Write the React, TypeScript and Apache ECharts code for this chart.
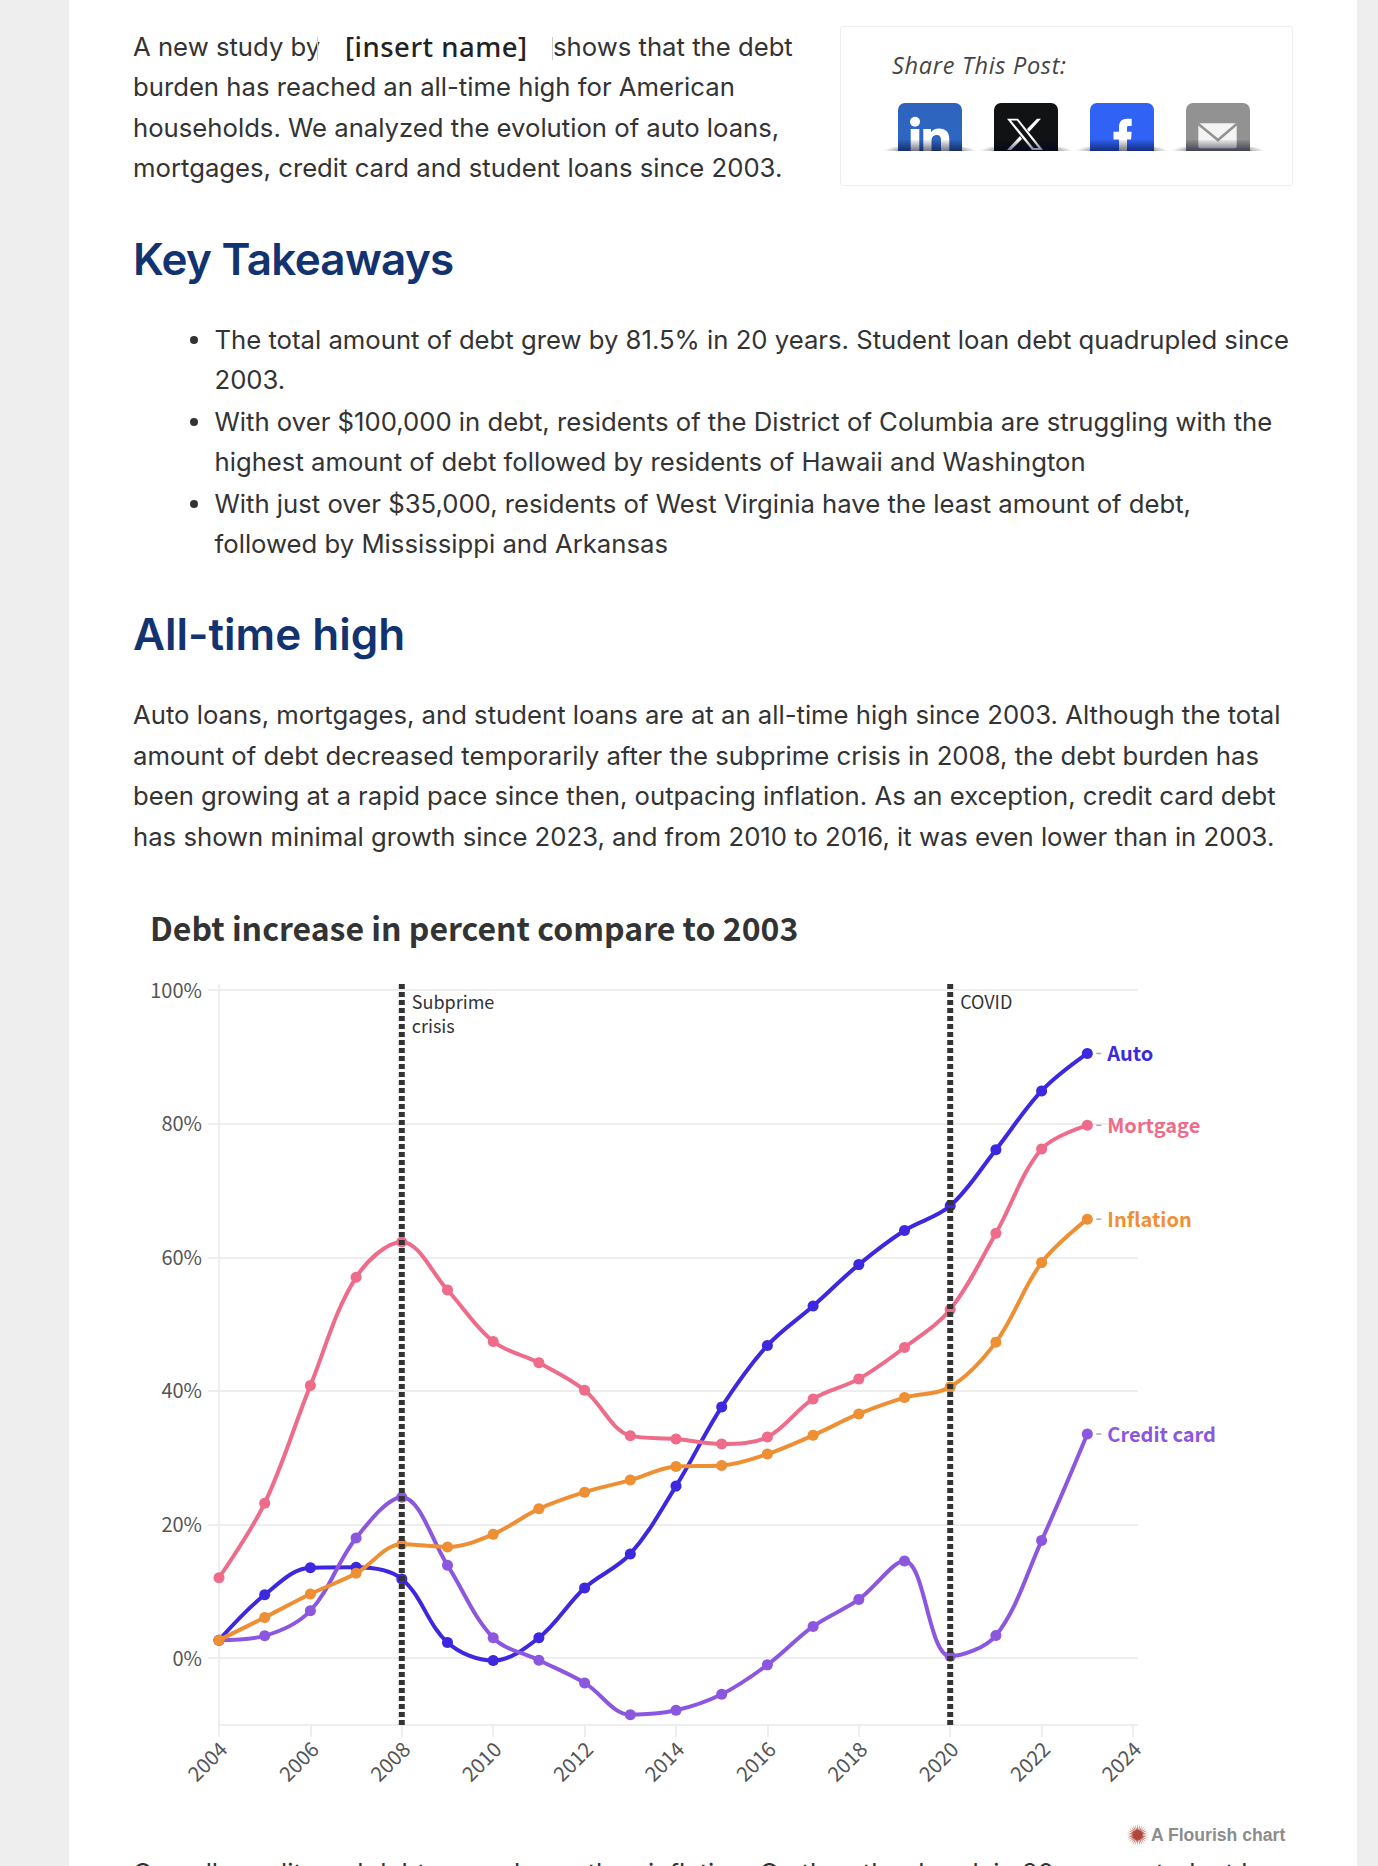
import React, { useEffect, useRef } from "react";
import * as echarts from "echarts";

const years = [2004, 2005, 2006, 2007, 2008, 2009, 2010, 2011, 2012, 2013, 2014, 2015, 2016, 2017, 2018, 2019, 2020, 2021, 2022, 2023];
const auto = [2.7, 9.5, 13.55, 13.6, 11.85, 2.35, -0.35, 3.05, 10.5, 15.6, 25.75, 37.6, 46.8, 52.7, 58.9, 64, 67.7, 76.1, 84.9, 90.5];
const mortgage = [12.05, 23.2, 40.8, 57, 62.3, 55.1, 47.4, 44.2, 40.1, 33.3, 32.8, 32.05, 33.1, 38.8, 41.8, 46.5, 52.2, 63.6, 76.2, 79.75];
const inflation = [2.7, 6.1, 9.6, 12.7, 17.05, 16.65, 18.55, 22.35, 24.85, 26.65, 28.7, 28.85, 30.55, 33.35, 36.55, 39, 40.6, 47.3, 59.2, 65.7];
const creditCard = [2.7, 3.35, 7.1, 18, 24.1, 13.9, 3.05, -0.3, -3.7, -8.45, -7.8, -5.4, -1, 4.75, 8.8, 14.55, 0.3, 3.4, 17.6, 33.55];
const seriesNames = ["Auto", "Mortgage", "Credit card", "Inflation"];
const seriesColors = ["#3d27df", "#ee6b8a", "#8c57df", "#ef8f33"];
const seriesValues = [auto, mortgage, creditCard, inflation];
const yTicks = [0, 20, 40, 60, 80, 100];
const eventYears = [2008, 2020];
const eventLabels = ["Subprime\ncrisis", "COVID"];
const chartTitle = "Debt increase in percent compare to 2003";

const SANS = "'Noto Sans CJK JP', 'Noto Sans', sans-serif";
const GRID = "#eeeeee";

const introLines = [
  { x: 133, y: 46.5, t: "A new study by" },
  { x: 553, y: 46.5, t: "shows that the debt" },
  { x: 133, y: 87, t: "burden has reached an all-time high for American" },
  { x: 133, y: 127.5, t: "households. We analyzed the evolution of auto loans," },
  { x: 133, y: 168, t: "mortgages, credit card and student loans since 2003." },
  { x: 214.5, y: 339.5, t: "The total amount of debt grew by 81.5% in 20 years. Student loan debt quadrupled since" },
  { x: 214.5, y: 380, t: "2003." },
  { x: 214.5, y: 421.5, t: "With over $100,000 in debt, residents of the District of Columbia are struggling with the" },
  { x: 214.5, y: 462, t: "highest amount of debt followed by residents of Hawaii and Washington" },
  { x: 214.5, y: 503.5, t: "With just over $35,000, residents of West Virginia have the least amount of debt," },
  { x: 214.5, y: 544, t: "followed by Mississippi and Arkansas" },
  { x: 133, y: 715, t: "Auto loans, mortgages, and student loans are at an all-time high since 2003. Although the total" },
  { x: 133, y: 756, t: "amount of debt decreased temporarily after the subprime crisis in 2008, the debt burden has" },
  { x: 133, y: 796, t: "been growing at a rapid pace since then, outpacing inflation. As an exception, credit card debt" },
  { x: 133, y: 837, t: "has shown minimal growth since 2023, and from 2010 to 2016, it was even lower than in 2003." },
  { x: 133, y: 1872.5, t: "Overall, credit card debt grew slower than inflation. On the other hand, in 20 years, student loans" },
];
const headings = [
  { y: 259, t: "Key Takeaways", spacing: -0.7 },
  { y: 634, t: "All-time high", spacing: 0 },
];
const bulletYs = [339.5, 421.5, 503.5];

function Line({ x, y, t, style }: any) {
  return (
    <div style={{ position: "absolute", left: x, top: y, transform: "translateY(-50%)", whiteSpace: "nowrap", lineHeight: 1.2, ...style }}>{t}</div>
  );
}

function Icon({ x, bg, children }: any) {
  return (
    <div style={{ position: "absolute", left: x, top: 103, width: 64, height: 48 }}>
      <div style={{ position: "absolute", left: -14, right: -14, top: 41, height: 7, background: "radial-gradient(ellipse 50% 100% at 50% 100%, rgba(0,0,0,.5), rgba(0,0,0,.32) 70%, rgba(0,0,0,0))" }} />
      <div style={{ position: "absolute", inset: 0, borderRadius: "7px 7px 0 0", overflow: "hidden", background: bg }}>
        <svg width="64" height="48" viewBox="0 0 64 48" style={{ position: "absolute", left: 0, top: 0 }}>{children}</svg>
        <div style={{ position: "absolute", left: 0, right: 0, bottom: 0, height: 11, background: "linear-gradient(rgba(0,0,30,.05), rgba(0,0,30,.55))" }} />
      </div>
    </div>
  );
}

export default function App() {
  const ref = useRef<HTMLDivElement>(null);
  useEffect(() => {
    const chart = echarts.init(ref.current!, undefined, { renderer: "svg" });
    const burst: number[][] = [];
    for (let i = 0; i < 56; i++) {
      const a = (i / 56) * Math.PI * 2;
      const r = i % 2 ? 4.5 : 11;
      burst.push([1137.6 + r * Math.cos(a), 955 + r * Math.sin(a)]);
    }
    const option: any = {
      animation: false,
      title: { text: chartTitle, left: 150, top: 30.5, padding: 0, textStyle: { fontFamily: SANS, fontWeight: 700, fontSize: 32, color: "#333333" } },
      grid: { left: 219, top: 110, width: 914, height: 735, containLabel: false },
      xAxis: {
        type: "value", min: 2004, max: 2024, interval: 2,
        axisLine: { show: true, onZero: false, lineStyle: { color: GRID, width: 2 } },
        axisTick: { show: true, length: 12, lineStyle: { color: GRID, width: 2 } },
        splitLine: { show: false },
        axisLabel: { rotate: 45, margin: 16, verticalAlign: "top", lineHeight: 10, fontFamily: SANS, fontSize: 20.5, color: "#555555", formatter: (v: number) => String(v), hideOverlap: false, showMinLabel: true, showMaxLabel: true },
      },
      yAxis: [
        {
          type: "value", min: -10, max: 100, interval: 20,
          axisLine: { show: true, onZero: false, lineStyle: { color: GRID, width: 2 } },
          axisTick: { show: true, length: 11, customValues: yTicks, lineStyle: { color: GRID, width: 2 } },
          splitLine: { show: true, lineStyle: { color: GRID, width: 2 } },
          axisLabel: { customValues: yTicks, margin: 17, verticalAlign: "bottom", lineHeight: 2, fontFamily: SANS, fontSize: 20, color: "#555555", formatter: (v: number) => v + "%" },
        },
        {
          type: "value", position: "right", min: -10, max: 100, interval: 20,
          axisLine: { show: false },
          axisTick: { show: true, length: 5, customValues: [-10, ...yTicks], lineStyle: { color: GRID, width: 2 } },
          splitLine: { show: false },
          axisLabel: { show: false },
        },
      ],
      graphic: [
        { type: "line", shape: { x1: 219, y1: 104, x2: 219, y2: 110 }, style: { stroke: GRID, lineWidth: 2 } },
        { type: "polygon", shape: { points: burst }, style: { fill: "#b0453a" } },
        { type: "text", x: 1151, y: 955, style: { text: "A Flourish chart", fontFamily: "'Liberation Sans', sans-serif", fontWeight: 700, fontSize: 17.6, fill: "#8c8c8c", textVerticalAlign: "middle" } },
      ],
      series: [
        ...seriesNames.map((name, i) => ({
          type: "line", name, z: 3 + i,
          data: years.map((y, j) => [y, seriesValues[i][j]]),
          smooth: 0.35,
          symbol: "circle", symbolSize: 11, showSymbol: true, showAllSymbol: true,
          lineStyle: { color: seriesColors[i], width: 4 },
          itemStyle: { color: seriesColors[i] },
          endLabel: { show: true, distance: 20, offset: [0, -1], formatter: name, fontFamily: SANS, fontWeight: 700, fontSize: 20, color: seriesColors[i] },
        })),
        {
          type: "custom", name: "leaders", z: 2, silent: true,
          data: seriesValues.map((v) => [years[years.length - 1], v[v.length - 1]]),
          renderItem: (_p: any, api: any) => {
            const c = api.coord([api.value(0), api.value(1)]);
            return { type: "line", shape: { x1: c[0] + 9, y1: c[1], x2: c[0] + 14, y2: c[1] }, style: { stroke: "#aaaaaa", lineWidth: 1.5 } };
          },
        },
        {
          type: "custom", name: "events", z: 10, silent: true,
          data: eventYears.map((y, i) => [y, i]),
          renderItem: (_p: any, api: any) => {
            const top = api.coord([api.value(0), 100]);
            const bottom = api.coord([api.value(0), -10]);
            const label = eventLabels[api.value(1)];
            return {
              type: "group",
              children: [
                { type: "line", shape: { x1: top[0], y1: top[1] - 6, x2: top[0], y2: bottom[1] }, style: { stroke: "#333333", lineWidth: 6, lineDash: [5, 3] } },
                { type: "text", x: top[0] + 10, y: top[1] - 1, style: { text: label, fontFamily: SANS, fontSize: 18, lineHeight: 24, fill: "#333333" } },
              ],
            };
          },
        },
      ],
    };
    chart.setOption(option);
    return () => chart.dispose();
  }, []);

  const body = { fontFamily: "Inter, sans-serif", fontSize: 25.7, color: "#333333" };
  return (
    <div style={{ position: "absolute", left: 0, top: 0, width: 1378, height: 1866, overflow: "hidden", background: "#eeeeee" }}>
      <div style={{ position: "absolute", left: 69, top: 0, width: 1288, height: 1866, background: "#ffffff" }} />
      {introLines.map((l, i) => <Line key={i} x={l.x} y={l.y} t={l.t} style={body} />)}
      <Line x={345} y={46} t="[insert name]" style={{ fontFamily: "'Noto Sans', sans-serif", fontWeight: 500, fontSize: 27.5, letterSpacing: 0.5, color: "#222222" }} />
      <div style={{ position: "absolute", left: 317, top: 37, width: 1, height: 23, background: "#cccccc" }} />
      <div style={{ position: "absolute", left: 552, top: 37, width: 1, height: 23, background: "#cccccc" }} />
      {headings.map((h, i) => <Line key={i} x={133} y={h.y} t={h.t} style={{ fontFamily: "Inter, sans-serif", fontWeight: 600, fontSize: 44, letterSpacing: h.spacing, color: "#12336f" }} />)}
      {bulletYs.map((y, i) => <div key={i} style={{ position: "absolute", left: 190, top: y - 4, width: 8, height: 8, borderRadius: 4, background: "#333333" }} />)}
      <div style={{ position: "absolute", left: 840, top: 26, width: 453, height: 160, boxSizing: "border-box", border: "1px solid #eeeeee", borderRadius: 3 }} />
      <Line x={892} y={65} t="Share This Post:" style={{ fontFamily: "'Open Sans', sans-serif", fontStyle: "italic", fontSize: 23.5, letterSpacing: 0.7, color: "#444444" }} />
      <Icon x={898} bg="linear-gradient(#2d63bd, #2e68c4)">
        <circle cx="17" cy="18.7" r="5" fill="#ffffff" />
        <rect x="12.7" y="26" width="8.6" height="22" fill="#ffffff" />
        <path d="M25.3 48 V26 H33 V29 C35 26.5 38 25.5 41 25.5 C47.5 25.5 51.3 29 51.3 36 V48 H43 V37 C43 33.5 41.5 32 39 32 C35.5 32 33.5 34 33.5 38 V48 Z" fill="#ffffff" />
      </Icon>
      <Icon x={994} bg="#101214">
        <path d="M13 15.7 H24 L49 47 H38 Z" fill="#ffffff" /><path d="M17 17.5 H23 L44.5 45 H39.5 Z" fill="#101214" /><path d="M47 15.7 L35 29 L33 26 L43 15.7 Z M26 33 L28 36 L17 47 H13 Z" fill="#ffffff" />
      </Icon>
      <Icon x={1090} bg="#2f62f5">
        <path d="M29 48 V36.5 H23.5 V28.7 H29 V24 C29 18.5 32 15.7 37 15.7 H41.7 V23 H38.5 C37.3 23 37 23.7 37 25 V28.7 H41.7 L41 36.5 H37 V48 Z" fill="#ffffff" />
      </Icon>
      <Icon x={1186} bg="#929292">
        <rect x="12.3" y="20.3" width="38.4" height="25" rx="2" fill="#f4f4f4" /><path d="M12.3 21 L32 37 L50.7 21" fill="none" stroke="#929292" strokeWidth="2.5" />
      </Icon>
      <div ref={ref} style={{ position: "absolute", left: 0, top: 880, width: 1378, height: 986 }} />
    </div>
  );
}
